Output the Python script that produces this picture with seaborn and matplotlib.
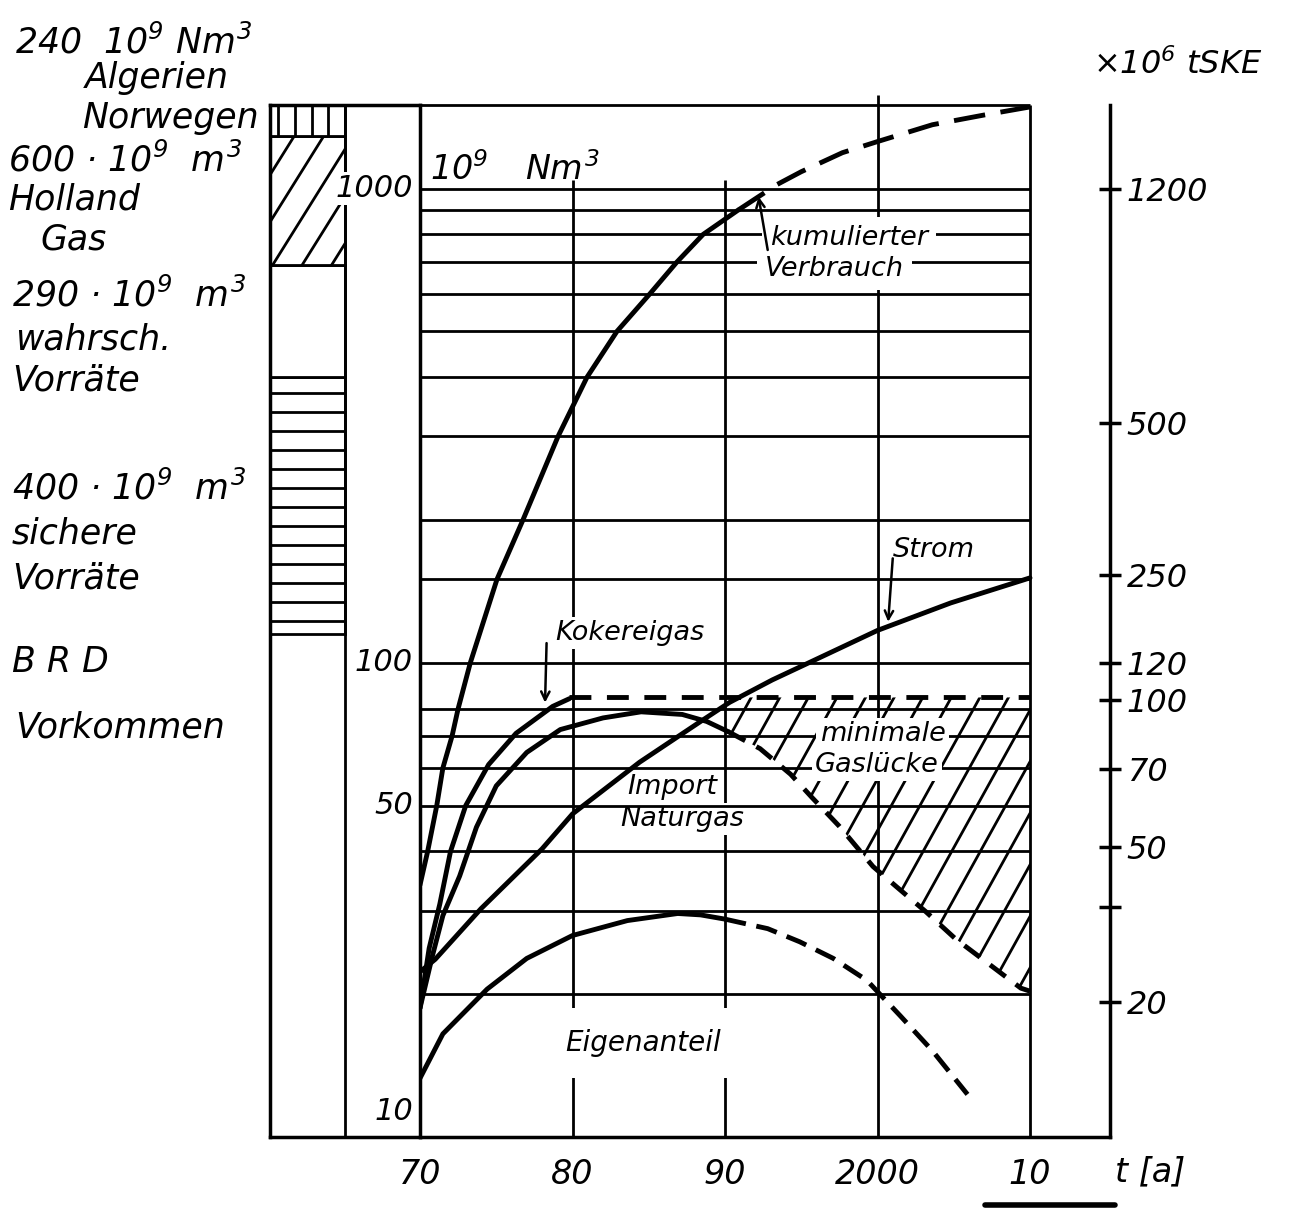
import math
import numpy as np
import matplotlib
matplotlib.use("Agg")
import matplotlib.pyplot as plt
import seaborn as sns
from matplotlib.lines import Line2D
from matplotlib.ticker import NullLocator

# ---------------- data ----------------
years_kum = [1970, 1970.5, 1971.1, 1971.5, 1972.1, 1972.5, 1973.3, 1975.05, 1976.75, 1979.05,
             1980.95, 1982.92, 1985.08, 1986.85, 1988.56, 1990.85]
kum = [34, 40, 50, 60, 70, 80, 100, 150, 200, 300, 400, 500, 600, 700, 800, 900]
years_kum_prog = [1990.85, 1993.4, 1995, 1997.7, 2000, 2003.6, 2007, 2010]
kum_prog = [900, 1019, 1085, 1190, 1256, 1363, 1429, 1486]

years_koks = [1970, 1970.6, 1971.3, 1972.0, 1973.0, 1974.5, 1976.3, 1978.7, 1979.8]
koks = [18.7, 25, 31, 40, 50, 61, 71, 80.9, 84]
years_bedarf = [1979.8, 2010]
bedarf = [84.5, 84.5]

years_import = [1970, 1970.8, 1971.5, 1972.6, 1973.7, 1975, 1977, 1979.2, 1982, 1984.5,
                1987.2, 1988.8, 1990.2]
import_gas = [18.7, 24, 29.3, 35.5, 45, 55, 64.7, 72.3, 76.5, 78.8, 77.8, 75.2, 71.6]
years_import_prog = [1990.2, 1992.3, 1994.3, 1995.7, 1997.5, 1999.7, 2001.2, 2003.2, 2005.1,
                     2007.2, 2009.4, 2010]
import_prog = [71.6, 65.9, 58.2, 52, 45.2, 37.2, 33.8, 29.8, 26.2, 23.3, 20.6, 20.3]

years_strom = [1970, 1971, 1974, 1978, 1980, 1984.4, 1988.4, 1990.3, 1993.1, 1995.5, 2000,
               2004.8, 2010]
strom = [22.3, 23.7, 30.3, 40.5, 48, 61.7, 75.2, 82.5, 92, 100, 117, 133.7, 151]

years_eigen = [1970, 1971.5, 1974.4, 1977, 1980, 1983.6, 1986.9, 1988.4, 1990]
eigen = [13.3, 16.5, 20.5, 23.8, 26.6, 28.6, 29.6, 29.4, 28.8]
years_eigen_prog = [1990, 1992.8, 1994.9, 1997.1, 1999.3, 2001.5, 2003.6, 2005.9]
eigen_prog = [28.8, 27.5, 25.8, 23.8, 21.4, 18.0, 15.2, 12.3]

# reserves (10^9 m^3), stacked cumulatively on the same log scale
reserve_names = ["sichere Vorräte", "wahrsch. Vorräte", "Holland Gas", "Algerien Norwegen"]
reserve_amounts = [400, 290, 600, 240]
reserve_floor = 115

grid_y = [20, 30, 40, 50, 60, 70, 80, 100, 150, 200, 300, 400, 500, 600, 700, 800, 900, 1000, 1500]
grid_x = [1980, 1990, 2000, 2010]
x_ticks = [1970, 1980, 1990, 2000, 2010]
x_labels = ["70", "80", "90", "2000", "10"]
left_tick_vals = [1000, 100, 50, 11.3]
left_tick_labels = ["1000", "100", "50", "10"]
right_tick_pos = [1000, 320, 153, 100, 83.6, 59.8, 40.9, 30.6, 19.3]
right_tick_labels = ["1200", "500", "250", "120", "100", "70", "50", "", "20"]

# ---------------- styling ----------------
sns.set_theme(style="white", rc={"axes.edgecolor": "black", "xtick.color": "black",
                                 "ytick.color": "black", "text.color": "black",
                                 "axes.labelcolor": "black"})
plt.rcParams["font.family"] = ["DejaVu Sans"]
plt.rcParams["font.style"] = "italic"
plt.rcParams["mathtext.default"] = "it"

W_PX, H_PX = 1296, 1209
fig = plt.figure(figsize=(W_PX / 100, H_PX / 100), dpi=100)


def fx(px):
    return px / W_PX


def fy(py):
    return 1 - py / H_PX


AX_L, AX_R, AX_T, AX_B = 420, 1110, 105, 1137
PANEL_L = 270
YMIN, YMAX = 10, 1500
PX_PER_YEAR = 15.25
XMIN = 1970
XMAX = 1970 + (AX_R - AX_L) / PX_PER_YEAR

LW_CURVE = 3.5
LW_GRID = 2.0
LW_SPINE = 2.5

axr = fig.add_axes([fx(PANEL_L), fy(AX_B), (AX_L - PANEL_L) / W_PX, (AX_B - AX_T) / H_PX])
ax = fig.add_axes([fx(AX_L), fy(AX_B), (AX_R - AX_L) / W_PX, (AX_B - AX_T) / H_PX])


def hatch(axis, clip_path, clip_trans, angle, spacing, lw=2.0, z=2.5):
    W = axis.bbox.width
    H = axis.bbox.height
    th = math.radians(angle)
    ux, uy = math.cos(th), math.sin(th)
    nx, ny = -uy, ux
    L = math.hypot(W, H)
    n = int(L / spacing) + 2
    for k in range(-n, n + 1):
        cx = W / 2 + nx * k * spacing
        cy = H / 2 + ny * k * spacing
        ln = Line2D([(cx - ux * L) / W, (cx + ux * L) / W],
                    [(cy - uy * L) / H, (cy + uy * L) / H],
                    transform=axis.transAxes, color="black", lw=lw, zorder=z,
                    solid_capstyle="butt")
        axis.add_line(ln)
        ln.set_clip_path(clip_path, clip_trans)
        ln.set_clip_box(axis.bbox)
        ln.set_clip_on(True)


# ---------------- reserve panel ----------------
axr.set_yscale("log")
axr.set_ylim(YMIN, YMAX)
axr.set_xlim(0, 2)
tops = np.cumsum(reserve_amounts)
bottoms = np.concatenate([[reserve_floor], tops[:-1]])
bars = axr.bar(np.zeros(len(reserve_amounts)), tops - bottoms, bottom=bottoms, width=1,
               align="edge", facecolor="white", edgecolor="black", linewidth=LW_GRID, zorder=2)
hatch_specs = [(0, 19), None, (58, 25), (90, 16.7)]
for bar, spec in zip(bars, hatch_specs):
    if spec:
        hatch(axr, bar.get_path(), bar.get_transform(), spec[0], spec[1])
axr.axvline(1, color="black", lw=LW_GRID, zorder=3)
axr.set_xticks([])
axr.set_yticks([])
axr.yaxis.set_minor_locator(NullLocator())
for s in ["left", "top", "bottom"]:
    axr.spines[s].set_linewidth(LW_SPINE)
    axr.spines[s].set_color("black")
axr.spines["right"].set_visible(False)
axr.set_facecolor("white")

# ---------------- main plot ----------------
ax.set_yscale("log")

ax.hlines(grid_y, 1970, 2010, color="black", lw=LW_GRID, zorder=2, clip_on=False)
vline_tops = [1040, 1040, 1575, 1500]
ax.vlines(grid_x, YMIN, vline_tops, color="black", lw=LW_GRID, zorder=1, clip_on=False)


def curve(xs, ys, dashes=None):
    sns.lineplot(x=xs, y=ys, ax=ax, color="black", linewidth=LW_CURVE,
                 estimator=None, sort=False, zorder=4)
    ln = ax.lines[-1]
    if dashes:
        ln.set_dashes(dashes)
        ln.set_dash_capstyle("butt")
    else:
        ln.set_solid_capstyle("round")
        ln.set_solid_joinstyle("round")


curve(years_kum, kum)
curve(years_kum_prog, kum_prog, (6.5, 3.2))
curve(years_koks, koks)
curve(years_bedarf, bedarf, (4.5, 3.2))
curve(years_import, import_gas)
curve(years_import_prog, import_prog, (4.0, 2.6))
curve(years_strom, strom)
curve(years_eigen, eigen)
curve(years_eigen_prog, eigen_prog, (4.4, 2.2))

# Gasluecke hatched region
pc = ax.fill_between(years_import_prog, import_prog, [bedarf[0]] * len(years_import_prog),
                     facecolor="none", edgecolor="none")
hatch(ax, pc.get_paths()[0], ax.transData, 61, 25, lw=LW_GRID, z=2.5)

ax.set_xlim(XMIN, XMAX)
ax.set_ylim(YMIN, YMAX)
ax.set_xlabel("")
ax.set_ylabel("")
ax.grid(False)

for s in ["left", "bottom"]:
    ax.spines[s].set_linewidth(LW_SPINE)
    ax.spines[s].set_color("black")
ax.spines["top"].set_visible(False)
ax.spines["right"].set_visible(False)

ax.set_xticks(x_ticks, x_labels)
ax.xaxis.set_minor_locator(NullLocator())
ax.tick_params(axis="x", length=10, width=LW_SPINE, direction="out", labelsize=24, pad=5)
ax.set_yticks([])
ax.yaxis.set_minor_locator(NullLocator())
ax.tick_params(axis="y", which="both", length=0, labelleft=False)

# left value labels
for v, s in zip(left_tick_vals, left_tick_labels):
    kw = {}
    if s == "1000":
        kw["bbox"] = dict(boxstyle="square,pad=0.05", facecolor="white", edgecolor="none")
    ax.text(1969.55, v, s, fontsize=22, ha="right", va="center", clip_on=False, zorder=10, **kw)

# right axis (10^6 tSKE)
ax2 = ax.twinx()
ax2.set_yscale("log")
ax2.set_ylim(YMIN, YMAX)
ax2.set_yticks(right_tick_pos, right_tick_labels)
ax2.yaxis.set_minor_locator(NullLocator())
ax2.tick_params(axis="y", direction="inout", length=16, width=LW_SPINE, labelsize=23, pad=4)
for s in ["left", "top", "bottom"]:
    ax2.spines[s].set_visible(False)
ax2.spines["right"].set_linewidth(LW_SPINE)
ax2.spines["right"].set_color("black")

# ---------------- annotations ----------------
FS_IN = 19.5
white = dict(boxstyle="square,pad=0.12", facecolor="white", edgecolor="none")
arrow = dict(arrowstyle="->,head_length=0.5,head_width=0.25", lw=1.8,
             color="black", shrinkA=0, shrinkB=0)

ax.text(1970.66, 1043, "$10^9$", fontsize=24, ha="left", va="baseline")
ax.text(1976.9, 1043, "$Nm^3$", fontsize=24, ha="left", va="baseline")

ax.text(1992.95, 785, "kumulierter", fontsize=FS_IN, ha="left", va="center", zorder=6,
        bbox=dict(boxstyle="square,pad=0.3", facecolor="white", edgecolor="none"))
ax.text(1992.6, 676, "Verbrauch", fontsize=FS_IN, ha="left", va="center", zorder=6,
        bbox=dict(boxstyle="square,pad=0.3", facecolor="white", edgecolor="none"))
ax.annotate("", xy=(1992.2, 961), xytext=(1992.8, 742), arrowprops=arrow, zorder=7)

ax.text(1978.85, 115.6, "Kokereigas", fontsize=FS_IN, ha="left", va="center", zorder=1.5,
        bbox=white)
ax.annotate("", xy=(1978.2, 82.4), xytext=(1978.3, 110), arrowprops=arrow, zorder=7)

ax.text(2001.0, 172.7, "Strom", fontsize=FS_IN, ha="left", va="center", zorder=6)
ax.annotate("", xy=(2000.7, 122), xytext=(2001.0, 166), arrowprops=arrow, zorder=7)

ax.text(1996.2, 70.6, "minimale", fontsize=FS_IN, ha="left", va="center", zorder=6, bbox=white)
ax.text(1995.9, 60.8, "Gaslücke", fontsize=FS_IN, ha="left", va="center", zorder=6, bbox=white)

ax.text(1983.6, 54.6, "Import", fontsize=FS_IN, ha="left", va="center", zorder=1.5, bbox=white)
ax.text(1983.1, 46.8, "Naturgas", fontsize=FS_IN, ha="left", va="center", zorder=1.5, bbox=white)

ax.text(1979.5, 15.8, "Eigenanteil", fontsize=20, ha="left", va="center", zorder=1.5,
        bbox=dict(boxstyle="square,pad=0.75", facecolor="white", edgecolor="none"))

# left side reserve labels
FS_L = 25
left_texts = [
    (15, 42, "240  $10^9$ $Nm^3$"),
    (85, 78, "Algerien"),
    (82, 118, "Norwegen"),
    (8, 160, "600 · $10^9$  $m^3$"),
    (8, 200, "Holland"),
    (40, 240, "Gas"),
    (12, 295, "290 · $10^9$  $m^3$"),
    (15, 340, "wahrsch."),
    (12, 380, "Vorräte"),
    (12, 488, "400 · $10^9$  $m^3$"),
    (12, 533, "sichere"),
    (12, 578, "Vorräte"),
    (12, 662, "B R D"),
    (15, 728, "Vorkommen"),
]
for px, py, s in left_texts:
    fig.text(fx(px), fy(py), s, fontsize=FS_L, ha="left", va="center")

fig.text(fx(1093), fy(65), "×$10^6$ tSKE", fontsize=23, ha="left", va="center")
fig.text(fx(1115), fy(1172), "t [a]", fontsize=24, ha="left", va="center")
fig.add_artist(Line2D([fx(985), fx(1115)], [fy(1205), fy(1205)], lw=4, color="black"))

fig.savefig("out.png", dpi=100, facecolor="white")
